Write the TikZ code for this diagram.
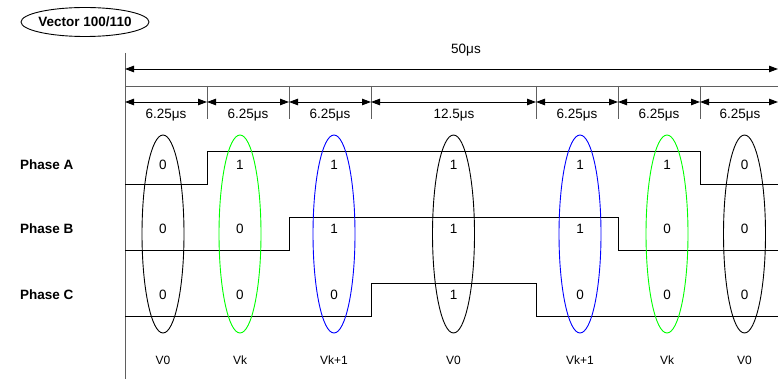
\documentclass[tikz,border=0pt]{standalone}
\usepackage{fontspec}
\setmainfont{Liberation Sans}
\usetikzlibrary{arrows.meta,shapes.geometric}
\definecolor{axisgray}{RGB}{95,95,95}
\definecolor{vgreen}{RGB}{0,255,0}
\definecolor{vblue}{RGB}{0,0,255}
\begin{document}
\begin{tikzpicture}[x=1pt,y=-1pt,
  wave/.style={line width=0.9pt,black},
  guide/.style={line width=0.9pt,axisgray},
  dimarrow/.style={line width=0.9pt,{Triangle[length=9pt,width=6.5pt]}-{Triangle[length=9pt,width=6.5pt]}},
  lbl/.style={font=\fontsize{13.5}{15}\selectfont,inner sep=0pt},
  phase/.style={font=\bfseries\fontsize{13.5}{15}\selectfont,inner sep=0pt,anchor=west},
  bit/.style={font=\fontsize{13.5}{15}\selectfont,inner sep=0pt},
  vec/.style={font=\fontsize{12}{13}\selectfont,inner sep=0pt},
  oval/.style={ellipse,draw,line width=0.9pt,minimum width=42pt,minimum height=198pt,inner sep=0pt},
]
\useasboundingbox (0,0) rectangle (778,379);

% title
\node[font=\bfseries\fontsize{13.5}{15}\selectfont,inner sep=0pt] (title) at (85,22) {Vector 100/110};
\draw[line width=0.9pt] (title.center) ellipse [x radius=64pt, y radius=14.5pt];

% axis and guide lines
\coordinate (axtop) at (125,53);
\coordinate (axbot) at (125,379);
\draw[guide] (axtop) -- (axbot);
\coordinate (g0) at (125,86);
\coordinate (g1) at (778,86);
\draw[guide] (g0) -- (g1);

% tick coordinates
\foreach \n/\x in {0/125,1/207,2/289,3/371,4/536,5/618,6/700,7/778}{
  \coordinate (t\n) at (\x,86);
  \coordinate (tb\n) at (\x,119);
  \coordinate (a\n) at (\x,102);
}
\foreach \n in {1,...,6}{ \draw[guide] (t\n) -- (tb\n); }

% 50us arrow
\coordinate (L) at (125,69);
\coordinate (R) at (778,69);
\draw[dimarrow] (L) -- (R);
\node[lbl] (total) at (466,50) {50μs};

% segment arrows
\foreach \i/\j in {0/1,1/2,2/3,3/4,4/5,5/6,6/7}{ \draw[dimarrow] (a\i) -- (a\j); }
\node[lbl] (d1) at (166,115) {6.25μs};
\node[lbl] (d2) at (248,115) {6.25μs};
\node[lbl] (d3) at (330,115) {6.25μs};
\node[lbl] (d4) at (454,115) {12.5μs};
\node[lbl] (d5) at (577,115) {6.25μs};
\node[lbl] (d6) at (659,115) {6.25μs};
\node[lbl] (d7) at (740,115) {6.25μs};

% phase labels
\node[phase] (pa) at (20,165) {Phase A};
\node[phase] (pb) at (20,229) {Phase B};
\node[phase] (pc) at (20,295) {Phase C};

% waveforms
\draw[wave] (125,184) -- (207,184) -- (207,151) -- (700,151) -- (700,184) -- (778,184);
\draw[wave] (125,250) -- (289,250) -- (289,217) -- (618,217) -- (618,250) -- (778,250);
\draw[wave] (125,316) -- (371,316) -- (371,283) -- (536,283) -- (536,316) -- (778,316);

% ovals, bits and vector names
\foreach \n/\x/\c/\a/\b/\cc/\v in {
  1/163/black/0/0/0/V0,
  2/240/vgreen/1/0/0/Vk,
  3/334/vblue/1/1/0/Vk+1,
  4/453.5/black/1/1/1/V0,
  5/580/vblue/1/1/0/Vk+1,
  6/667/vgreen/1/0/0/Vk,
  7/744.5/black/0/0/0/V0}{
  \node[oval,draw=\c] (o\n) at (\x,234) {};
  \node[bit] (ba\n) at (\x,165) {\a};
  \node[bit] (bb\n) at (\x,229) {\b};
  \node[bit] (bc\n) at (\x,295) {\cc};
  \node[vec] (v\n) at (\x,360) {\v};
}
\end{tikzpicture}
\end{document}
